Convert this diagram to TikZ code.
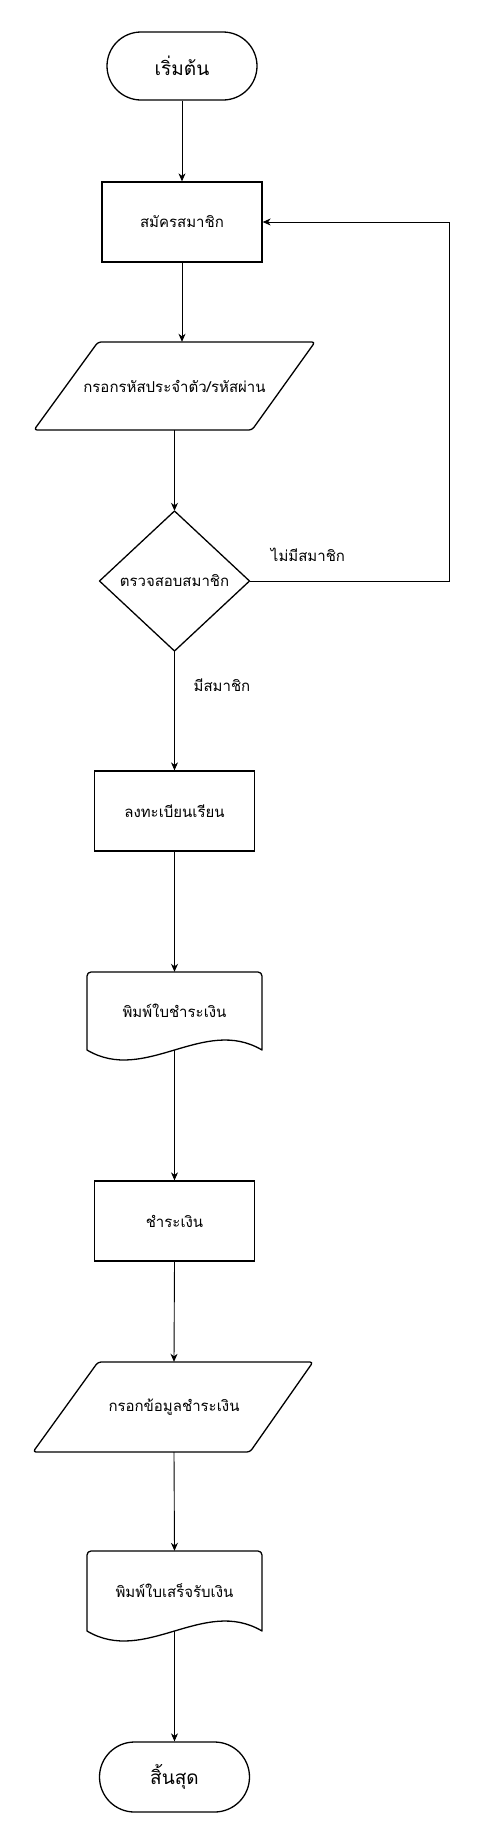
\documentclass[tikz,border=0pt]{standalone}
\usepackage{fontspec}
\newfontfamily\thaifont[Script=Thai]{Loma}
\usetikzlibrary{arrows.meta}
\begin{document}
\begin{tikzpicture}[x=1pt,y=-1pt,
  every node/.style={font=\thaifont\fontsize{15}{18}\selectfont, inner sep=0pt},
  procbox/.style={draw, line width=1.3pt, minimum width=160pt, minimum height=80pt},
  termbox/.style={draw, line width=1.3pt, rounded corners=34pt, minimum width=150pt, minimum height=68pt, font=\thaifont\fontsize{19}{22}\selectfont},
  ghost/.style={draw=none},
  shp/.style={line width=1.3pt, line join=round},
  conn/.style={line width=0.9pt, -{Stealth[length=8pt,width=7pt,inset=2.5pt]}},
  lbl/.style={font=\thaifont\fontsize{15}{18}\selectfont}]
\useasboundingbox (0,0) rectangle (488,1842);
\fill[white] (0,0) rectangle (488,1842);

% start
\node[termbox] (start) at (182,66) {เริ่มต้น};
% box1
\node[procbox] (box1) at (182,222) {สมัครสมาชิก};
% para1
\draw[shp, rounded corners=3pt] (98,342) -- (315,342) -- (252,430) -- (34,430) -- cycle;
\node[ghost, minimum width=217pt, minimum height=88pt] (para1) at (174.5,386) {กรอกรหัสประจำตัว/รหัสผ่าน};
% diamond
\draw[shp] (174.5,511) -- (249.5,581) -- (174.5,651) -- (99.5,581) -- cycle;
\node[ghost, minimum width=150pt, minimum height=140pt] (dia) at (174.5,581) {ตรวจสอบสมาชิก};
% box2
\node[procbox] (box2) at (174.5,811) {ลงทะเบียนเรียน};
% doc1
\draw[shp] (87,1050) [rounded corners=4pt] -- (87,972) -- (262,972) [sharp corners] -- (262,1050)
  .. controls (203.7,1015.4) and (145.3,1084.6) .. (87,1050);
\node[ghost, minimum width=175pt, minimum height=78pt] (doc1) at (174.5,1011) {พิมพ์ใบชำระเงิน};
% box3
\node[procbox] (box3) at (174.5,1221) {ชำระเงิน};
% para2
\draw[shp, rounded corners=3pt] (98,1362) -- (313,1362) -- (250,1452) -- (33,1452) -- cycle;
\node[ghost, minimum width=215pt, minimum height=90pt] (para2) at (174,1407) {กรอกข้อมูลชำระเงิน};
% doc2
\draw[shp] (87,1631) [rounded corners=4pt] -- (87,1551) -- (262,1551) [sharp corners] -- (262,1631)
  .. controls (203.7,1596.4) and (145.3,1665.6) .. (87,1631);
\node[ghost, minimum width=175pt, minimum height=80pt] (doc2) at (174.5,1591) {พิมพ์ใบเสร็จรับเงิน};
% end
\node[termbox, minimum height=70pt, rounded corners=35pt] (fin) at (174.5,1777) {สิ้นสุด};

\coordinate (loopc) at (449,581);

% connectors
\draw[conn] (start.south) -- (box1.north);
\draw[conn] (box1.south) -- (box1.south |- para1.north);
\draw[conn] (para1.south) -- (dia.north);
\draw[conn] (dia.east) -- (loopc) |- (box1.east);
\draw[conn] (dia.south) -- (box2.north);
\draw[conn] (box2.south) -- (doc1.north);
\draw[conn] (doc1.south) -- (box3.north);
\draw[conn] (box3.south) -- (para2.north);
\draw[conn] (para2.south) -- (doc2.north);
\draw[conn] (doc2.south) -- (fin.north);

% labels
\node[lbl] (lno) at (308,555) {ไม่มีสมาชิก};
\node[lbl] (lyes) at (222,685) {มีสมาชิก};
\end{tikzpicture}
\end{document}
